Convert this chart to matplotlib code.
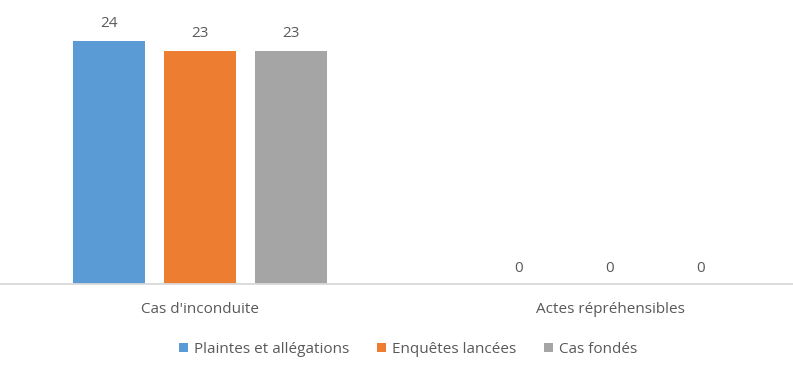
import numpy as np
import matplotlib.pyplot as plt

plt.rcParams['font.family'] = ['Open Sans', 'DejaVu Sans']

categories = ["Cas d'inconduite", "Actes répréhensibles"]
series = ["Plaintes et allégations", "Enquêtes lancées", "Cas fondés"]
plaintes = [24, 0]
enquetes = [23, 0]
fondes = [23, 0]
values = [plaintes, enquetes, fondes]
colors = ['#5B9BD5', '#ED7D31', '#A5A5A5']
txt = '#595959'

W, H = 793, 367
fig = plt.figure(figsize=(W / 100, H / 100), dpi=100)
base_px = 283.5
top_px = 10
ax = fig.add_axes([0, (H - base_px) / H, 1, (base_px - top_px) / H])

px_per_unit = (base_px - 41) / 24
ax.set_ylim(0, (base_px - top_px) / px_per_unit)
grp = 410.0
ax.set_xlim(-200 / grp, 593 / grp)

x = np.arange(len(categories))
width = 72 / grp
step = 91 / grp
for i, (name, vals, c) in enumerate(zip(series, values, colors)):
    xs = x + (i - 1) * step
    ax.bar(xs, vals, width, color=c, label=name)
    for xi, v in zip(xs, vals):
        off = 10 if v > 0 else 8.3
        ax.annotate(str(v), (xi, v), xytext=(0, off), textcoords='offset points',
                    ha='center', va='baseline', fontsize=11, color=txt)

for s in ['top', 'right', 'left']:
    ax.spines[s].set_visible(False)
ax.spines['bottom'].set_color('#D9D9D9')
ax.spines['bottom'].set_linewidth(1.3)
ax.set_yticks([])
ax.set_xticks(x)
ax.set_xticklabels(categories, fontsize=11, color=txt)
ax.tick_params(axis='x', length=0, pad=13.5)

fig.legend(loc='center', bbox_to_anchor=(408 / W, 1 - 349.5 / H), ncol=3, frameon=False,
           fontsize=11, labelcolor=txt, handlelength=0.6, handleheight=0.6,
           handletextpad=0.4, columnspacing=1.8)

fig.savefig('out.png', dpi=100)
